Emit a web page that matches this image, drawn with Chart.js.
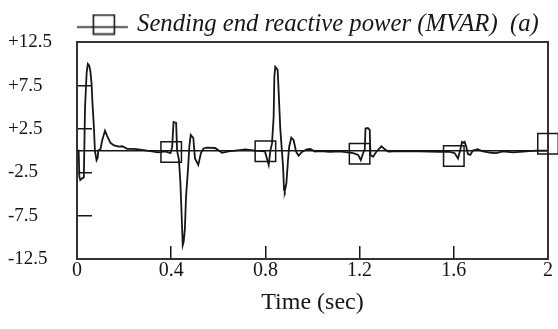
<!DOCTYPE html>
<html><head><meta charset="utf-8">
<script src="https://cdn.jsdelivr.net/npm/chart.js@4.4.0/dist/chart.umd.min.js"></script>
<style>html,body{margin:0;padding:0;background:#fff;}</style>
</head><body>
<canvas id="c" width="558" height="329"></canvas>
<script>
// ---- data ----
const timeSec = [0.000,0.007,0.010,0.014,0.022,0.029,0.031,0.034,0.041,0.046,0.052,0.057,0.062,0.065,0.072,0.076,0.083,0.088,0.090,0.100,0.107,0.119,0.128,0.142,0.157,0.178,0.192,0.213,0.242,0.268,0.311,0.345,0.374,0.397,0.404,0.410,0.421,0.425,0.433,0.439,0.443,0.449,0.453,0.458,0.463,0.472,0.477,0.483,0.494,0.501,0.515,0.526,0.537,0.552,0.586,0.616,0.644,0.672,0.715,0.756,0.798,0.814,0.821,0.828,0.835,0.838,0.842,0.852,0.856,0.863,0.870,0.875,0.879,0.882,0.889,0.896,0.901,0.910,0.920,0.930,0.941,0.955,0.976,0.990,1.011,1.033,1.074,1.116,1.173,1.194,1.205,1.215,1.222,1.225,1.235,1.243,1.246,1.257,1.272,1.293,1.307,1.321,1.371,1.455,1.540,1.583,1.604,1.618,1.628,1.635,1.642,1.646,1.653,1.660,1.670,1.681,1.702,1.724,1.759,1.780,1.808,1.851,1.908,1.950,1.996];
const reactivePower = [0,0,-3.0,-3.4,-3.2,-3.1,0,4.9,9.0,10.0,9.8,9.1,7.7,5.8,2.6,0,-1.1,-0.8,0,0.2,1.2,2.3,1.7,0.9,0.6,0.45,0.5,0.2,0.2,0.1,-0.05,-0.2,-0.1,-0.3,0.4,3.3,3.2,0,-1.1,-3.7,-6.5,-10.9,-10.5,-9.1,-5.3,-1.9,0.45,1.8,1.45,-0.9,-1.65,-0.3,0.25,0.35,0.3,-0.25,-0.1,0,0.15,0,-0.1,-1.65,0,0.8,3.9,8.5,9.65,9.3,7.0,2.6,0,-1.85,-4.5,-4.7,-3.8,-1.1,0.45,1.5,1.2,-0.1,-0.6,-0.15,0.15,0.2,-0.1,-0.05,-0.15,-0.1,-0.3,-0.5,-1.1,-0.3,0.15,2.55,2.6,2.4,-0.5,-0.7,-0.1,0.5,0.15,-0.1,-0.05,-0.1,-0.15,-0.15,-0.3,-0.9,0.15,1.0,0.9,1.0,0.45,-0.4,-0.5,0,0.15,-0.1,-0.25,-0.3,-0.1,-0.2,-0.1,0,0];
const markerTimes = [0.4,0.8,1.2,1.6,2.0];
const markerValues = [-0.16,-0.07,-0.36,-0.62,0.8];
const xTickValues = [0,0.4,0.8,1.2,1.6,2];
const xTickLabels = ['0','0.4','0.8','1.2','1.6','2'];
const yTickValues = [-12.5,-7.5,-2.5,0,2.5,7.5,12.5];
const yTickLabels = ['-12.5','-7.5','-2.5','','+2.5','+7.5','+12.5'];
const seriesLabel = 'Sending end reactive power (MVAR)  (a)';
const xTitle = 'Time (sec)';

const INK = '#161616';
const SERIF = "'Liberation Serif', 'DejaVu Serif', serif";

// legend icon: line with open square
function legendIcon() {
  const c = document.createElement('canvas');
  c.width = 60; c.height = 22;
  const g = c.getContext('2d');
  g.strokeStyle = INK; g.lineWidth = 1.6;
  g.beginPath(); g.moveTo(0, 13.5); g.lineTo(52, 13.5); g.stroke();
  g.strokeRect(17.5, 1.5, 21, 19);
  return c;
}

// tighten the legend block so the plot frame starts right below it
const legendTighten = {
  id: 'legendTighten',
  beforeLayout(chart) {
    const lg = chart.legend;
    if (lg && !lg._tight) {
      const fit = lg.fit.bind(lg);
      lg.fit = function () { fit(); this.height = Math.max(0, this.height - 4.7); };
      lg._tight = true;
    }
  }
};

const ctx = document.getElementById('c').getContext('2d');
new Chart(ctx, {
  data: {
    datasets: [
      {
        type: 'line',
        label: seriesLabel,
        data: timeSec.map((t, i) => ({x: t, y: reactivePower[i]})),
        borderColor: INK, borderWidth: 1.8, pointRadius: 0, tension: 0, fill: false
      },
      {
        type: 'line',
        label: 'markers',
        data: markerTimes.map((t, i) => ({x: t, y: markerValues[i]})),
        showLine: false, pointStyle: 'rect', pointRadius: 14.5,
        pointBorderColor: INK, pointBorderWidth: 1.5,
        pointBackgroundColor: 'rgba(0,0,0,0)', clip: false
      }
    ]
  },
  plugins: [legendTighten],
  options: {
    responsive: false, animation: false, devicePixelRatio: 1, events: [],
    layout: {autoPadding: false, padding: {left: 8, right: 10, top: 2.2, bottom: 0}},
    plugins: {
      tooltip: {enabled: false},
      legend: {
        display: true, position: 'top', align: 'start', fullSize: false,
        labels: {
          usePointStyle: true, pointStyleWidth: 37.7, padding: 10,
          color: INK,
          font: {family: SERIF, size: 24.7, style: 'italic'},
          generateLabels: () => [{
            text: seriesLabel, pointStyle: legendIcon(), fillStyle: 'rgba(0,0,0,0)',
            strokeStyle: 'rgba(0,0,0,0)', lineWidth: 0, hidden: false, datasetIndex: 0, fontColor: INK
          }]
        }
      }
    },
    scales: {
      x: {
        type: 'linear', position: 'bottom', min: 0, max: 2,
        afterBuildTicks: s => { s.ticks = xTickValues.map(v => ({value: v})); },
        afterFit: s => { s.height = 70; s.paddingLeft = 5; s.paddingRight = 5; },
        ticks: {
          autoSkip: false, maxRotation: 0, padding: 13, color: INK,
          font: {family: SERIF, size: 20},
          callback: (v, i) => xTickLabels[i]
        },
        grid: {
          drawOnChartArea: false, drawTicks: true, tickLength: -13, lineWidth: 1.5,
          tickColor: c => (c.tick && (c.tick.value === 0 || c.tick.value === 2)) ? 'rgba(0,0,0,0)' : INK
        },
        border: {display: true, color: '#333', width: 2},
        title: {display: true, text: xTitle, color: INK, font: {family: SERIF, size: 24}, padding: {top: 0, bottom: 12}}
      },
      y: {
        type: 'linear', position: 'left', min: -12.5, max: 12.5,
        afterBuildTicks: s => { s.ticks = yTickValues.map(v => ({value: v})); },
        afterFit: s => { s.width = 69; },
        ticks: {
          crossAlign: 'far', padding: 0, color: INK,
          font: {family: SERIF, size: 19},
          callback: (v, i) => yTickLabels[i]
        },
        grid: {
          drawOnChartArea: true, drawTicks: true, tickLength: -15, lineWidth: 1.5,
          color: c => (c.tick && c.tick.value === 0) ? INK : 'rgba(0,0,0,0)',
          tickColor: c => (c.tick && Math.abs(c.tick.value) !== 12.5 && c.tick.value !== 0) ? INK : 'rgba(0,0,0,0)'
        },
        border: {display: true, color: '#333', width: 2}
      },
      xTop: {
        type: 'linear', position: 'top', min: 0, max: 2,
        ticks: {display: false}, grid: {display: false, drawTicks: false},
        border: {display: true, color: '#333', width: 2},
        afterFit: s => { s.height = 0; }
      },
      yRight: {
        type: 'linear', position: 'right', min: -12.5, max: 12.5,
        ticks: {display: false}, grid: {display: false, drawTicks: false},
        border: {display: true, color: '#333', width: 2},
        afterFit: s => { s.width = 0; }
      }
    }
  }
});
</script>
</body></html>
